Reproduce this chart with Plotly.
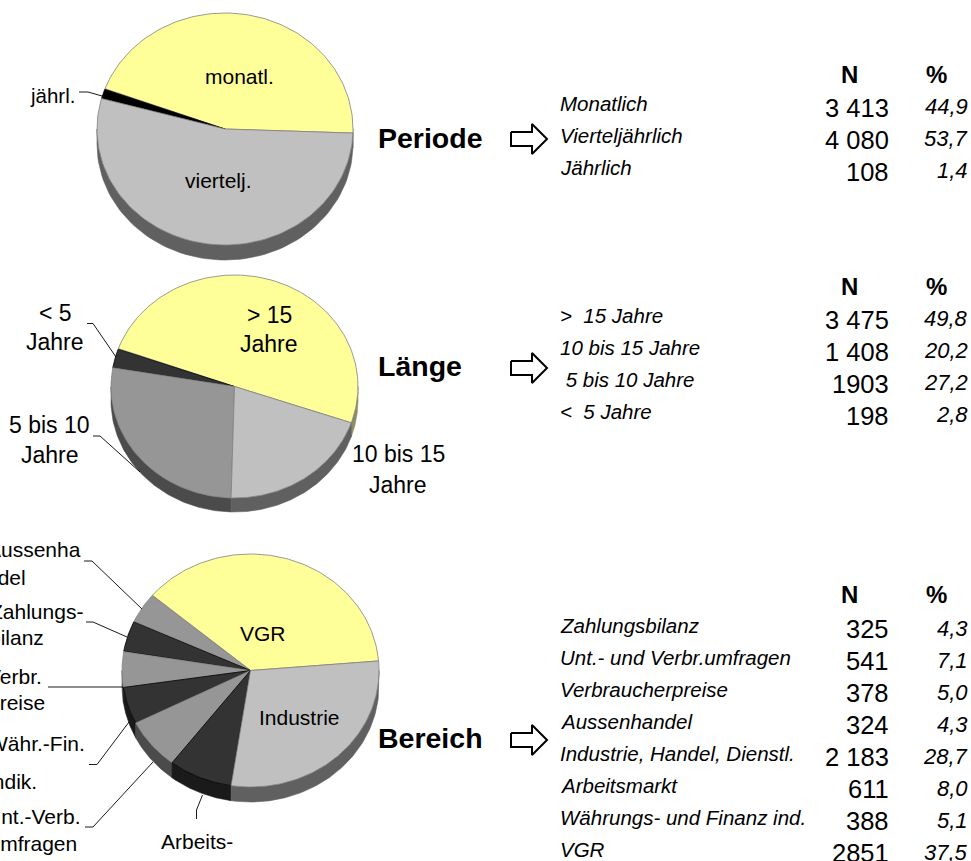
import numpy as np
import plotly.graph_objects as go

FONT = "Liberation Sans, Arial, sans-serif"

# ---------- data ----------
period_labels = ["Monatlich", "Vierteljährlich", "Jährlich"]
period_n = [3413, 4080, 108]
period_n_text = ["3 413", "4 080", "108"]
period_pct = ["44,9", "53,7", "1,4"]
period_pie_order = [0, 2, 1]

length_labels = [">\u00a0\u00a015 Jahre", "10 bis 15 Jahre", "\u00a05 bis 10 Jahre", "<\u00a0\u00a05 Jahre"]
length_n = [3475, 1408, 1903, 198]
length_n_text = ["3 475", "1 408", "1903", "198"]
length_pct = ["49,8", "20,2", "27,2", "2,8"]
length_pie_order = [0, 3, 2, 1]

area_labels = ["Zahlungsbilanz", "Unt.- und Verbr.umfragen", "Verbraucherpreise", "Aussenhandel",
               "Industrie, Handel, Dienstl.", "Arbeitsmarkt", "Währungs- und Finanz ind.", "VGR"]
area_n = [325, 541, 378, 324, 2183, 611, 388, 2851]
area_n_text = ["325", "541", "378", "324", "2 183", "611", "388", "2851"]
area_pct = ["4,3", "7,1", "5,0", "4,3", "28,7", "8,0", "5,1", "37,5"]
area_pie_order = [7, 3, 0, 2, 6, 1, 5, 4]

section_titles = ["Periode", "Länge", "Bereich"]

# ---------- styling / layout ----------
YEL, LIGHT, MID, DARK, BLACK = "#FFFF99", "#C0C0C0", "#969696", "#333333", "#000000"
SIDE = {YEL: "#8c8c66", LIGHT: "#606060", MID: "#4B4B4B", DARK: "#1A1A1A", BLACK: "#000000"}
EDGE = {YEL: "#808080", LIGHT: "#808080", MID: "#808080", DARK: "#000000", BLACK: "#000000"}

pies = [
    dict(vals=period_n, order=period_pie_order, cols=[YEL, BLACK, LIGHT],
         cx=225, cy=129, rx=128, ry=116, depth=15, start=-2.0),
    dict(vals=length_n, order=length_pie_order, cols=[YEL, DARK, MID, LIGHT],
         cx=234.5, cy=386.5, rx=123.5, ry=111.5, depth=14, start=-19.0),
    dict(vals=area_n, order=area_pie_order, cols=[YEL, MID, DARK, MID, DARK, MID, DARK, LIGHT],
         cx=250.5, cy=670.5, rx=128.5, ry=116.5, depth=15, start=4.7),
]

fig = go.Figure()


def ell(p, t, dy=0.0):
    r = np.radians(t)
    return p["cx"] + p["rx"] * np.cos(r), p["cy"] - p["ry"] * np.sin(r) + dy


def add_poly(xs, ys, fill, edge, width=1.0):
    fig.add_trace(go.Scatter(x=list(xs), y=list(ys), mode="lines", fill="toself", fillcolor=fill,
                             line=dict(color=edge, width=width), hoverinfo="skip", showlegend=False))


for p in pies:
    vals = np.array([p["vals"][i] for i in p["order"]], float)
    sweeps = vals / vals.sum() * 360.0
    starts = p["start"] + np.concatenate([[0], np.cumsum(sweeps)[:-1]])
    # side walls (visible lower half only: angles 180..360 and their -360 images)
    for a, s, c in zip(starts, sweeps, p["cols"]):
        for off in (0, 360, -360):
            lo, hi = max(a + off, 180), min(a + s + off, 360)
            if hi > lo:
                t = np.linspace(lo, hi, 80)
                x1, y1 = ell(p, t)
                x2, y2 = ell(p, t[::-1], p["depth"])
                add_poly(np.r_[x1, x2, x1[0]], np.r_[y1, y2, y1[0]], SIDE[c], SIDE[c], 0.6)
    # top surface
    for a, s, c in zip(starts, sweeps, p["cols"]):
        t = np.linspace(a, a + s, 120)
        x, y = ell(p, t)
        add_poly(np.r_[p["cx"], x, p["cx"]], np.r_[p["cy"], y, p["cy"]], c, EDGE[c], 0.8)

# leader lines
leaders = [
    [(79, 92), (88, 92), (102, 96)],
    [(87, 323.5), (93, 323.5), (116, 357)],
    [(93, 436), (100, 436), (140, 472)],
    [(84, 561), (92, 561), (142, 609)],
    [(86, 622), (93, 622), (127, 637)],
    [(48, 687), (123, 687)],
    [(89, 764.5), (97, 764.5), (129, 722)],
    [(85, 827), (93, 827), (153, 762)],
    [(196.5, 819), (196.5, 810), (202.5, 795)],
]
for L in leaders:
    fig.add_trace(go.Scatter(x=[q[0] for q in L], y=[q[1] for q in L], mode="lines",
                             line=dict(color="#000000", width=0.9), hoverinfo="skip", showlegend=False))

# block arrows
for yc in (139, 368, 740):
    xa = [511, 532, 532, 547, 532, 532, 511, 511]
    ya = [yc - 7, yc - 7, yc - 15, yc, yc + 15, yc + 7, yc + 7, yc - 7]
    fig.add_trace(go.Scatter(x=xa, y=ya, mode="lines", line=dict(color="#000000", width=2),
                             hoverinfo="skip", showlegend=False))

ann = []


def text(x, y, s, size=20, anchor="center", bold=False, italic=False):
    if bold:
        s = f"<b>{s}</b>"
    if italic:
        s = f"<i>{s}</i>"
    # annotations carry a 2px inner pad: compensate so x is the ink edge
    x = x + {"left": -2, "right": 2, "center": 0}[anchor]
    ann.append(dict(x=x, y=y, xref="x", yref="y", text=s, showarrow=False, xanchor=anchor, yanchor="middle",
                    font=dict(family=FONT, size=size, color="#000000"), align=anchor))


# pie labels
pie_texts = [
    (239, 76, "monatl.", "center", 21), (218, 180, "viertelj.", "center", 21), (75, 95, "jährl.", "right", 20.5),
    (55, 313, "< 5", "center", 23), (55, 342, "Jahre", "center", 23),
    (269, 315, "> 15", "center", 23), (269, 344, "Jahre", "center", 23),
    (49, 425, "5 bis 10", "center", 23), (50, 455, "Jahre", "center", 23),
    (398, 454, "10 bis 15", "center", 23), (398, 485, "Jahre", "center", 23),
    (263, 633, "VGR", "center", 21), (299.5, 717, "Industrie", "center", 21),
    (81, 549, "Aussenha", "right", 21), (26, 577, "ndel", "right", 21),
    (83, 611, "Zahlungs-", "right", 21), (44, 637, "bilanz", "right", 21),
    (42, 676, "Verbr.", "right", 21), (45, 702, "preise", "right", 21),
    (85, 743, "Währ.-Fin.", "right", 21), (37, 781, "Indik.", "right", 21),
    (81, 816, "Unt.-Verb.", "right", 21), (77, 843, "Umfragen", "right", 21),
    (197, 841, "Arbeits-", "center", 21),
]
for x, y, s, a, sz in pie_texts:
    text(x, y, s, sz, a)
ann.append(dict(x=197, y=855, yshift=-16, xref="x", yref="y", text="markt", showarrow=False, yanchor="middle",
                font=dict(family=FONT, size=21, color="#000000")))

# section titles
for t, y in zip(section_titles, (138, 366, 738)):
    text(378, y, t, 28.5, "left", bold=True)

# tables
tables = [
    (period_labels, period_n_text, period_pct, 104, 74, 4),
    (length_labels, length_n_text, length_pct, 316, 286, 4),
    (area_labels, area_n_text, area_pct, 626, 594, 3),
]
for labs, ns, pcts, y0, yh, dn in tables:
    text(849.5, yh, "N", 24, "center", bold=True)
    text(936, yh, "%", 24, "center", bold=True)
    for i, (l, n, pc) in enumerate(zip(labs, ns, pcts)):
        y = y0 + 32 * i
        text(560, y - 0.5, l, 20.5, "left", italic=True)
        text(889, y + dn, n, 25.5, "right")
        text(968, y + 2, pc, 22, "right", italic=True)

fig.update_layout(
    width=971, height=861, margin=dict(l=0, r=0, t=0, b=0), autosize=False,
    paper_bgcolor="#FFFFFF", plot_bgcolor="#FFFFFF", showlegend=False, annotations=ann,
    xaxis=dict(range=[0, 971], visible=False, fixedrange=True),
    yaxis=dict(range=[861, 0], visible=False, fixedrange=True),
)
fig.write_html("out.html", config=dict(displayModeBar=False),
               post_script="document.body.style.margin='0';document.body.style.overflow='hidden';")
